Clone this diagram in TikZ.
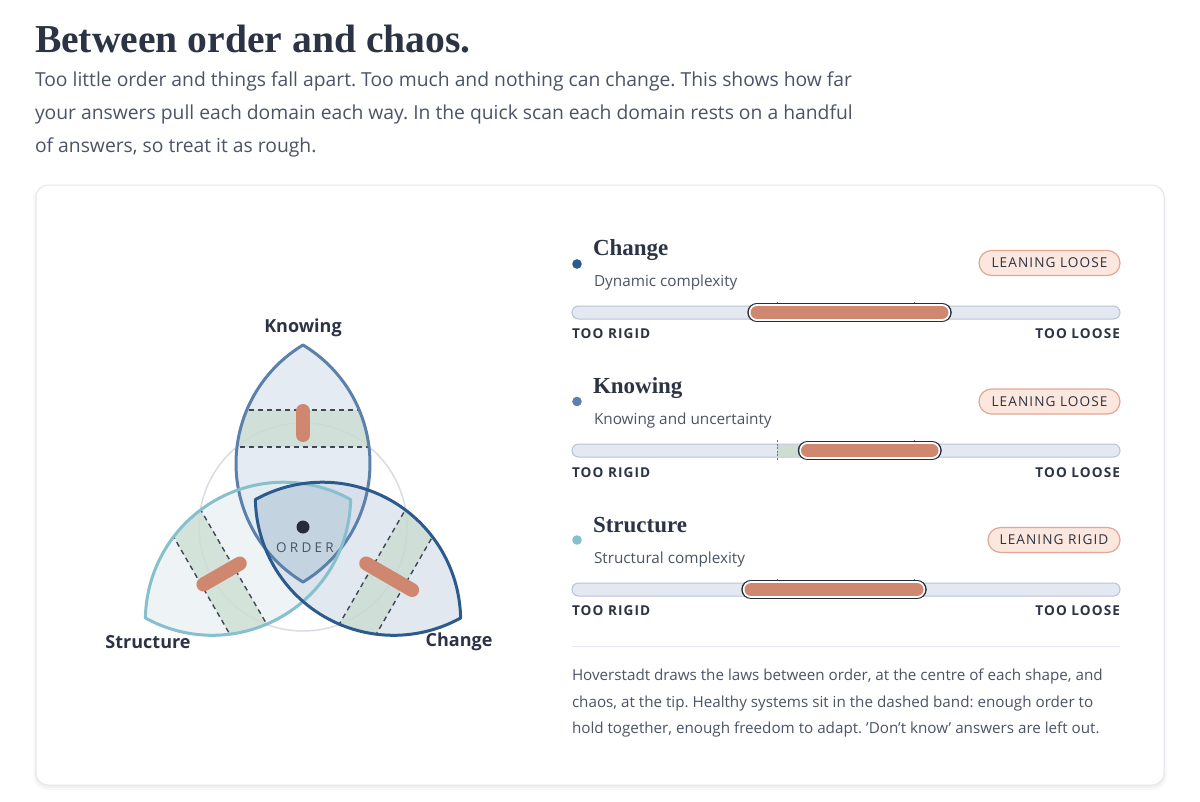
\documentclass[tikz,border=0pt]{standalone}
\usepackage{fontspec}
\setmainfont{Open Sans}
\newfontfamily\titlefont{Liberation Serif}
\newfontfamily\spacedfont[LetterSpace=8]{Open Sans}
\newfontfamily\orderfont[LetterSpace=24]{Open Sans}
\frenchspacing
\definecolor{ink}{HTML}{2B3345}
\definecolor{bodyc}{HTML}{4B5466}
\definecolor{kstroke}{HTML}{5B80AB}
\definecolor{sstroke}{HTML}{86BFCD}
\definecolor{cstroke}{HTML}{2C5A8C}
\definecolor{kfill}{HTML}{D5DEEB}
\definecolor{sfill}{HTML}{E3EDF0}
\definecolor{cfill}{HTML}{CFD9E6}
\definecolor{corec}{HTML}{B1CAD8}
\definecolor{bandc}{HTML}{C6DACA}
\definecolor{barc}{HTML}{D0876F}
\definecolor{trackc}{HTML}{E4E9F1}
\definecolor{trackline}{HTML}{B9C4D4}
\definecolor{badgefill}{HTML}{FBE7DE}
\definecolor{badgeline}{HTML}{E2A793}
\definecolor{ringc}{HTML}{D9DCE5}
\definecolor{rulec}{HTML}{E6E9F0}
\definecolor{cardline}{HTML}{E4E7EE}
\definecolor{dashc}{HTML}{3E4657}
\definecolor{pillc}{HTML}{262C3A}
\definecolor{tickc}{HTML}{6B7385}
\def\lens{plot[domain=238.97:121.03,samples=70] ({71.29+138.29*cos(\x)},{-63.5+138.29*sin(\x)}) -- plot[domain=58.97:-58.97,samples=70] ({-71.29+138.29*cos(\x)},{-63.5+138.29*sin(\x)}) -- cycle}
\tikzset{
  dashline/.style={draw=dashc, line width=1.4pt, dash pattern=on 5pt off 4pt},
  lensbar/.style={draw=barc, line width=14pt, line cap=round},
  lensline/.style={line width=3pt, line join=round},
  vlabel/.style={text=ink, font=\bfseries\fontsize{18}{18}\selectfont},
  dtitle/.style={anchor=base west, text=ink, font=\titlefont\bfseries\fontsize{23}{23}\selectfont},
  dsub/.style={anchor=base west, text=bodyc, font=\fontsize{15.3}{15.3}\selectfont},
  badge/.style={draw=badgeline, fill=badgefill, line width=1.2pt, rounded corners=12.5pt, minimum height=25pt, text=ink, font=\spacedfont\fontsize{13.6}{13.6}\selectfont},
  endlabel/.style={text=ink, font=\spacedfont\bfseries\fontsize{13.6}{13.6}\selectfont},
  trackst/.style={draw=trackline, fill=trackc, line width=1pt, rounded corners=6.5pt},
  tickst/.style={draw=tickc, line width=0.8pt, dash pattern=on 2pt off 1.5pt},
  para/.style={anchor=base west, text=bodyc, font=\fontsize{19.3}{19.3}\selectfont},
  foot/.style={anchor=base west, text=bodyc, font=\fontsize{15.2}{15.2}\selectfont},
}
\begin{document}
\begin{tikzpicture}[x=1pt,y=-1pt, every node/.style={inner sep=0pt, outer sep=0pt}]
\useasboundingbox[fill=white] (0,0) rectangle (1200,801);

% heading
\node[anchor=base west, text=ink, font=\titlefont\bfseries\fontsize{39.6}{39.6}\selectfont] (title) at (35,52) {Between order and chaos.};
\node[para] (p1) at (35,86) {Too little order and things fall apart. Too much and nothing can change. This shows how far};
\node[para] (p2) at (35,119) {your answers pull each domain each way. In the quick scan each domain rests on a handful};
\node[para] (p3) at (35,152) {of answers, so treat it as rough.};

% card
\fill[black, opacity=0.025, rounded corners=14pt] (33,186) rectangle (1167,790);
\fill[black, opacity=0.03, rounded corners=13pt] (35,186) rectangle (1165,788);
\draw[cardline, fill=white, line width=1pt, rounded corners=12pt] (36,185) rectangle (1164,785);

% ---------- Venn ----------
\draw[ringc, line width=1.5pt] (303,527) circle[radius=104pt];
% fills
\begin{scope}[shift={(303,527)}]
  \fill[kfill, fill opacity=0.6] \lens;
\end{scope}
\begin{scope}[shift={(303,527)}, rotate=120]
  \fill[sfill, fill opacity=0.6] \lens;
\end{scope}
\begin{scope}[shift={(303,527)}, rotate=-120]
  \fill[cfill, fill opacity=0.6] \lens;
\end{scope}
% core
\begin{scope}[shift={(303,527)}]
  \clip \lens;
  \begin{scope}[rotate=120]
    \clip \lens;
    \begin{scope}[rotate=120]
      \fill[corec, fill opacity=0.5] \lens;
    \end{scope}
  \end{scope}
\end{scope}
% bands
\foreach \ang in {0,120,-120}{
  \begin{scope}[shift={(303,527)}, rotate=\ang]
    \clip \lens;
    \fill[bandc, fill opacity=0.65] (-90,-117) rectangle (90,-80);
    \draw[dashline] (-90,-117) -- (90,-117) (-90,-80) -- (90,-80);
  \end{scope}
}
% outlines
\begin{scope}[shift={(303,527)}]
  \draw[kstroke, lensline] \lens;
\end{scope}
\begin{scope}[shift={(303,527)}, rotate=120]
  \draw[sstroke, lensline] \lens;
\end{scope}
\begin{scope}[shift={(303,527)}, rotate=-120]
  \draw[cstroke, lensline] \lens;
\end{scope}
% bars
\begin{scope}[shift={(303,527)}]
  \draw[lensbar] (0,-92) -- (0,-116);
\end{scope}
\begin{scope}[shift={(303,527)}, rotate=120]
  \draw[lensbar] (0,-73) -- (0,-115);
\end{scope}
\begin{scope}[shift={(303,527)}, rotate=-120]
  \draw[lensbar] (0,-73) -- (0,-126);
\end{scope}
% centre
\fill[pillc] (303,527) circle[radius=6.5pt];
\node[text=bodyc, font=\orderfont\fontsize{13.5}{13.5}\selectfont] (order) at (305,548) {ORDER};
\node[vlabel] (lk) at (303,328) {Knowing};
\node[vlabel] (ls) at (148,642) {Structure};
\node[vlabel] (lc) at (459,642) {Change};

% ---------- right panel ----------
% Change
\fill[cstroke] (577,264) circle[radius=4.8pt];
\node[dtitle] (tc) at (593,255) {Change};
\node[dsub] (sc) at (594,286) {Dynamic complexity};
\node[badge, minimum width=141pt] (bc) at (1049.5,263) {LEANING LOOSE};
\draw[trackst] (572,306) rectangle (1120,319);
\draw[tickst] (777,302) -- (777,323) (914,302) -- (914,323);
\draw[pillc, line width=19.5pt, line cap=round] (757,312.5) -- (942,312.5);
\draw[white, line width=16.5pt, line cap=round] (757,312.5) -- (942,312.5);
\draw[barc, line width=13pt, line cap=round] (757,312.5) -- (942,312.5);
\node[endlabel, anchor=west] (rc) at (572,334) {TOO RIGID};
\node[endlabel, anchor=east] (oc) at (1120,334) {TOO LOOSE};

% Knowing
\fill[kstroke] (577,401.5) circle[radius=4.8pt];
\node[dtitle] (tk) at (593,393.5) {Knowing};
\node[dsub] (sk) at (594,424.5) {Knowing and uncertainty};
\node[badge, minimum width=141pt] (bk) at (1049.5,401.5) {LEANING LOOSE};
\draw[trackst] (572,444) rectangle (1120,457);
\fill[bandc, fill opacity=0.8] (777,444.5) rectangle (914,456.5);
\draw[tickst] (777,440) -- (777,461) (914,440) -- (914,461);
\draw[pillc, line width=19.5pt, line cap=round] (807.5,450.5) -- (932,450.5);
\draw[white, line width=16.5pt, line cap=round] (807.5,450.5) -- (932,450.5);
\draw[barc, line width=13pt, line cap=round] (807.5,450.5) -- (932,450.5);
\node[endlabel, anchor=west] (rk) at (572,472.5) {TOO RIGID};
\node[endlabel, anchor=east] (ok) at (1120,472.5) {TOO LOOSE};

% Structure
\fill[sstroke] (577,540) circle[radius=4.8pt];
\node[dtitle] (ts) at (593,532) {Structure};
\node[dsub] (ss) at (594,563) {Structural complexity};
\node[badge, minimum width=132pt] (bs) at (1054,540) {LEANING RIGID};
\draw[trackst] (572,583) rectangle (1120,596);
\draw[tickst] (777,579) -- (777,600) (914,579) -- (914,600);
\draw[pillc, line width=19.5pt, line cap=round] (751,589.5) -- (917,589.5);
\draw[white, line width=16.5pt, line cap=round] (751,589.5) -- (917,589.5);
\draw[barc, line width=13pt, line cap=round] (751,589.5) -- (917,589.5);
\node[endlabel, anchor=west] (rs) at (572,611) {TOO RIGID};
\node[endlabel, anchor=east] (os) at (1120,611) {TOO LOOSE};

% rule and footnote
\draw[rulec, line width=1pt] (572,646) -- (1120,646);
\node[foot] (f1) at (572,680) {Hoverstadt draws the laws between order, at the centre of each shape, and};
\node[foot] (f2) at (572,707) {chaos, at the tip. Healthy systems sit in the dashed band: enough order to};
\node[foot] (f3) at (572,733) {hold together, enough freedom to adapt. 'Don't know' answers are left out.};
\end{tikzpicture}
\end{document}
